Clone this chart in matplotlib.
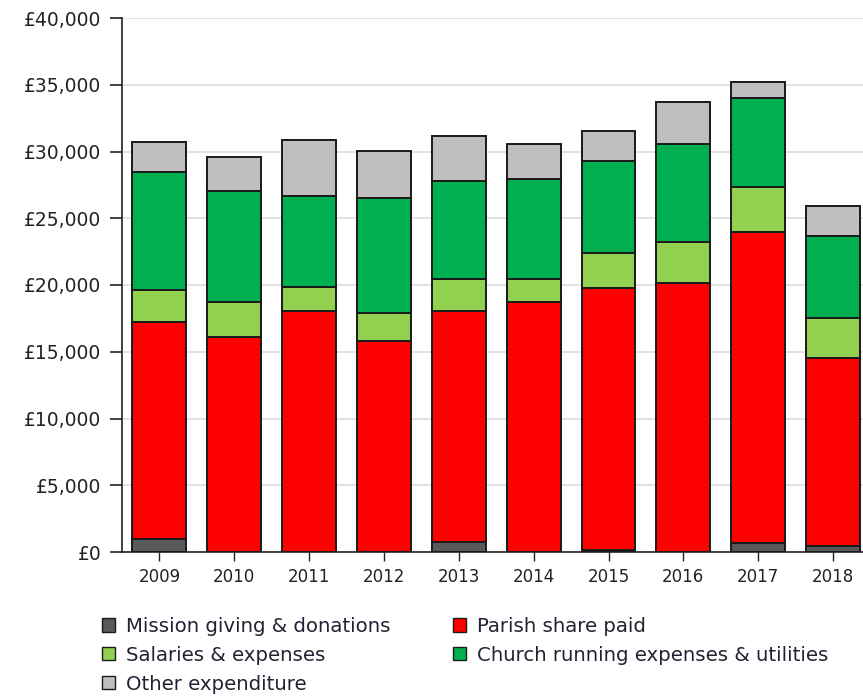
import matplotlib
matplotlib.use("Agg")
import matplotlib.pyplot as plt
from matplotlib.ticker import FuncFormatter, MultipleLocator
from matplotlib.patches import Patch
import numpy as np

plt.rcParams['font.family'] = ['DejaVu Sans']

years = ["2009", "2010", "2011", "2012", "2013", "2014", "2015", "2016", "2017", "2018"]
mission = [950, 0, 0, 0, 770, 0, 150, 0, 650, 450]
parish = [16300, 16130, 18050, 15830, 17280, 18700, 19650, 20130, 23300, 14060]
salaries = [2380, 2570, 1780, 2050, 2380, 1750, 2570, 3070, 3370, 3040]
church = [8810, 8340, 6860, 8660, 7380, 7510, 6920, 7340, 6690, 6120]
other = [2250, 2520, 4170, 3520, 3370, 2600, 2250, 3190, 1170, 2250]

series = [
    ("Mission giving & donations", mission, "#595959"),
    ("Parish share paid", parish, "#ff0000"),
    ("Salaries & expenses", salaries, "#92d050"),
    ("Church running expenses & utilities", church, "#00b050"),
    ("Other expenditure", other, "#bfbfbf"),
]

fig = plt.figure(figsize=(8.63, 6.97), dpi=100)
ax = fig.add_axes([122/863, 1 - 552/697, 1 - 122/863, (552 - 18)/697])

x = np.arange(len(years))
bottom = np.zeros(len(years))
handles = {}
for name, vals, col in series:
    v = np.array(vals, dtype=float)
    ax.bar(x, v, bottom=bottom, width=0.72, color=col, edgecolor="#1a1a1a",
           linewidth=1.4, zorder=3)
    bottom += v
    handles[name] = Patch(facecolor=col, edgecolor="#1a1a1a", linewidth=1.0)

ax.set_ylim(0, 40000)
ax.set_xlim(-0.5, 9.4)
ax.yaxis.set_major_locator(MultipleLocator(5000))
ax.yaxis.set_major_formatter(FuncFormatter(lambda v, p: "£{:,.0f}".format(v)))
ax.set_xticks(x)
ax.set_xticklabels(years)
ax.grid(axis="y", color="#dddddd", linewidth=1.2, zorder=0)
for s in ["top", "right"]:
    ax.spines[s].set_visible(False)
ax.spines["left"].set_color("#222222")
ax.spines["bottom"].set_color("#222222")
ax.spines["left"].set_linewidth(1.2)
ax.spines["bottom"].set_linewidth(1.2)
ax.tick_params(axis="y", labelsize=13.5, length=9, width=1.2, color="#222222", labelcolor="#222222", pad=6)
ax.tick_params(axis="x", labelsize=12, length=6.5, width=1.0, color="#222222", labelcolor="#222222", pad=5)

order = ["Mission giving & donations", "Salaries & expenses", "Other expenditure",
         "Parish share paid", "Church running expenses & utilities"]
leg = fig.legend([handles[n] for n in order], order, loc="upper left",
                 bbox_to_anchor=(94/863, 1 - 609/697), ncol=2, frameon=False,
                 fontsize=14.2, handlelength=0.66, handleheight=0.66,
                 handletextpad=0.55, labelspacing=0.5, columnspacing=3.2,
                 borderaxespad=0)
for t in leg.get_texts():
    t.set_color("#222233")

fig.savefig("out.png", dpi=100)
